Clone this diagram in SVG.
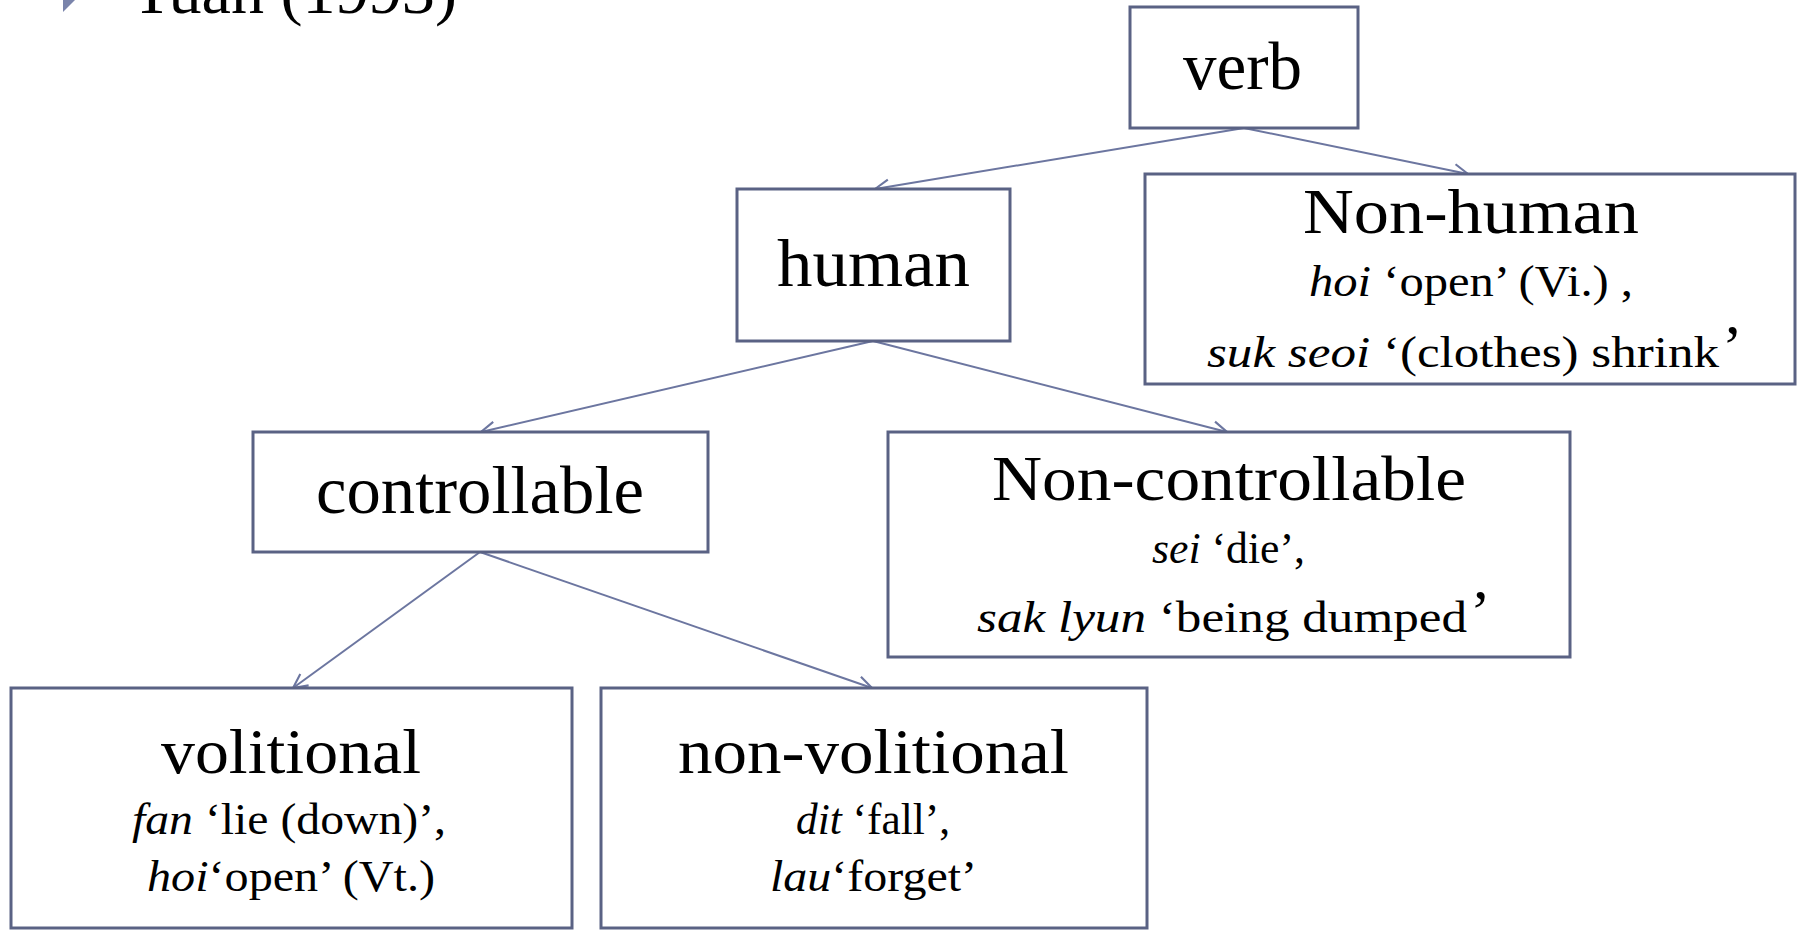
<svg xmlns="http://www.w3.org/2000/svg" width="1803" height="930" viewBox="0 0 1803 930">
<style>
.box{fill:#ffffff;stroke:#5a6284;stroke-width:3}
.t{font-family:"Liberation Serif","Times New Roman",serif;fill:#000}
.big{font-size:68px}
.mid{font-size:64px}
.sub{font-size:45px}
.i{font-style:italic}
.conn{fill:none;stroke:#6c76a0;stroke-width:2}
</style>
<defs>
<marker id="arr" viewBox="0 0 12 12" refX="11" refY="6" markerUnits="userSpaceOnUse" markerWidth="17" markerHeight="17" orient="auto">
<path d="M1,1 L11,6 L1,11" fill="none" stroke="#6c76a0" stroke-width="1.5"/>
</marker>
</defs>
<rect width="1803" height="930" fill="#ffffff"/>
<g id="title">
<polygon points="63,-12 75,0 63,12" fill="#7a84ab"/>
<text class="t" x="128" y="13" font-size="64" textLength="329" lengthAdjust="spacingAndGlyphs">Yuan (1993)</text>
</g>
<g id="connectors">
<line class="conn" x1="1244" y1="128" x2="875" y2="189" marker-end="url(#arr)"/>
<line class="conn" x1="1244" y1="128" x2="1468" y2="174" marker-end="url(#arr)"/>
<line class="conn" x1="873" y1="341" x2="481" y2="432" marker-end="url(#arr)"/>
<line class="conn" x1="873" y1="341" x2="1227" y2="432" marker-end="url(#arr)"/>
<line class="conn" x1="480" y1="552" x2="293" y2="688" marker-end="url(#arr)"/>
<line class="conn" x1="480" y1="552" x2="872" y2="688" marker-end="url(#arr)"/>
</g>
<g id="verb">
<rect class="box" x="1130" y="7" width="228" height="121"/>
<text class="t big" x="1183" y="89" textLength="119" lengthAdjust="spacingAndGlyphs">verb</text>
</g>
<g id="human">
<rect class="box" x="737" y="189" width="273" height="152"/>
<text class="t big" x="777" y="286" textLength="193" lengthAdjust="spacingAndGlyphs">human</text>
</g>
<g id="non-human">
<rect class="box" x="1145" y="174" width="650" height="210"/>
<text class="t mid" x="1303" y="233" textLength="336" lengthAdjust="spacingAndGlyphs">Non-human</text>
<text class="t sub" x="1309" y="296" textLength="324" lengthAdjust="spacingAndGlyphs"><tspan class="i">hoi</tspan> ‘open’ (Vi.) ,</text>
<text class="t sub" x="1207" y="367"><tspan textLength="512" lengthAdjust="spacingAndGlyphs"><tspan class="i">suk seoi</tspan> ‘(clothes) shrink</tspan><tspan font-size="62" dx="3">’</tspan></text>
</g>
<g id="controllable">
<rect class="box" x="253" y="432" width="455" height="120"/>
<text class="t big" x="316" y="513" textLength="328" lengthAdjust="spacingAndGlyphs">controllable</text>
</g>
<g id="non-controllable">
<rect class="box" x="888" y="432" width="682" height="225"/>
<text class="t mid" x="992" y="500" textLength="474" lengthAdjust="spacingAndGlyphs">Non-controllable</text>
<text class="t sub" x="1152" y="563" textLength="153" lengthAdjust="spacingAndGlyphs"><tspan class="i">sei</tspan> ‘die’,</text>
<text class="t sub" x="977" y="632"><tspan textLength="490" lengthAdjust="spacingAndGlyphs"><tspan class="i">sak lyun</tspan> ‘being dumped</tspan><tspan font-size="62" dx="3">’</tspan></text>
</g>
<g id="volitional">
<rect class="box" x="11" y="688" width="561" height="240"/>
<text class="t mid" x="161" y="773" textLength="260" lengthAdjust="spacingAndGlyphs">volitional</text>
<text class="t sub" x="132" y="834" textLength="314" lengthAdjust="spacingAndGlyphs"><tspan class="i">fan</tspan> ‘lie (down)’,</text>
<text class="t sub" x="147" y="891" textLength="288" lengthAdjust="spacingAndGlyphs"><tspan class="i">hoi</tspan>‘open’ (Vt.)</text>
</g>
<g id="non-volitional">
<rect class="box" x="601" y="688" width="546" height="240"/>
<text class="t mid" x="678" y="773" textLength="391" lengthAdjust="spacingAndGlyphs">non-volitional</text>
<text class="t sub" x="796" y="834" textLength="154" lengthAdjust="spacingAndGlyphs"><tspan class="i">dit</tspan> ‘fall’,</text>
<text class="t sub" x="770" y="891" textLength="207" lengthAdjust="spacingAndGlyphs"><tspan class="i">lau</tspan>‘forget’</text>
</g>
</svg>
